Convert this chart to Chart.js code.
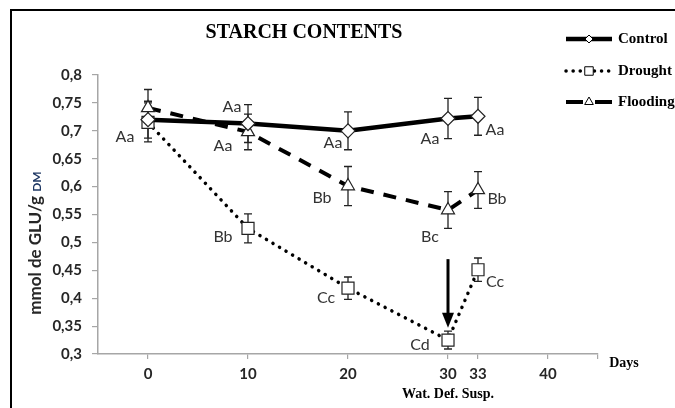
<!DOCTYPE html>
<html>
<head>
<meta charset="utf-8">
<title>Starch contents</title>
<script src="https://cdn.jsdelivr.net/npm/chart.js@4.4.1/dist/chart.umd.min.js"></script>
<style>
    html, body { margin: 0; padding: 0; background: #fff; }
    #wrap { width: 675px; height: 408px; position: relative; }
</style>
</head>
<body>
<div id="wrap"><canvas id="starchChart" width="675" height="408"></canvas></div>
<script>
// Sampling days and axis ticks
const days = [0, 10, 20, 30, 33];
const dayTicks = [0, 10, 20, 30, 33, 40, 45];

// Series values (mmol GLU / g DM) and error bars
const controlValues = [0.720, 0.713, 0.700, 0.722, 0.726];
const controlErrors = [0.033, 0.034, 0.034, 0.036, 0.034];
const droughtValues = [0.715, 0.525, 0.418, 0.325, 0.451];
const droughtErrors = [0.035, 0.026, 0.020, 0.016, 0.021];
const floodingValues = [0.741, 0.698, 0.601, 0.558, 0.594];
const floodingErrors = [0.033, 0.032, 0.035, 0.033, 0.033];

// Significance letters
const controlLetters = ['Aa', 'Aa', 'Aa', 'Aa', 'Aa'];
const droughtLetters = ['', 'Bb', 'Cc', 'Cd', 'Cc'];
const floodingLetters = ['', 'Aa', 'Bb', 'Bc', 'Bb'];

// Water deficit suspension arrow (day, from value, to value)
const arrowDay = 30;
const arrowFrom = 0.47;
const arrowTo = 0.347;

const INK = '#000000';
const TEXT = '#333333';

function toPoints(values) {
    return values.map((v, i) => ({ x: days[i], y: v }));
}

// Error bars drawn under the markers
const errorBarPlugin = {
    id: 'errorBars',
    beforeDatasetsDraw(chart) {
        const ctx = chart.ctx;
        const xs = chart.scales.x, ys = chart.scales.y;
        ctx.save();
        ctx.strokeStyle = '#222';
        ctx.lineWidth = 1.3;
        chart.data.datasets.forEach(ds => {
            ds.data.forEach((p, i) => {
                const err = ds.errors[i];
                const px = xs.getPixelForValue(p.x);
                const top = ys.getPixelForValue(p.y + err);
                const bot = ys.getPixelForValue(p.y - err);
                ctx.beginPath();
                ctx.moveTo(px, top); ctx.lineTo(px, bot);
                ctx.moveTo(px - 4, top); ctx.lineTo(px + 4, top);
                ctx.moveTo(px - 4, bot); ctx.lineTo(px + 4, bot);
                ctx.stroke();
            });
        });
        ctx.restore();
    }
};

// Letters next to the points
const letterPlugin = {
    id: 'letters',
    afterDatasetsDraw(chart, args, opts) {
        const ctx = chart.ctx;
        const xs = chart.scales.x, ys = chart.scales.y;
        ctx.save();
        ctx.fillStyle = TEXT;
        ctx.font = '16px Lato';
        ctx.textAlign = 'center';
        ctx.textBaseline = 'middle';
        chart.data.datasets.forEach((ds, d) => {
            ds.data.forEach((p, i) => {
                const txt = ds.letters[i];
                if (!txt) return;
                const off = opts.offsets[d][i];
                ctx.fillText(txt, xs.getPixelForValue(p.x) + off[0], ys.getPixelForValue(p.y) + off[1]);
            });
        });
        ctx.restore();
    }
};

// Frame, title, legend, axis titles and arrow
const decorPlugin = {
    id: 'decor',
    afterDraw(chart) {
        const ctx = chart.ctx;
        const xs = chart.scales.x, ys = chart.scales.y;
        ctx.save();

        // outer frame
        ctx.strokeStyle = INK;
        ctx.lineWidth = 2;
        ctx.strokeRect(11, 10, 720, 450);

        // title
        ctx.fillStyle = INK;
        ctx.font = 'bold 20px "Liberation Serif"';
        ctx.textAlign = 'center';
        ctx.textBaseline = 'middle';
        ctx.fillText('STARCH CONTENTS', 304, 33);

        // legend
        const rows = [39, 71, 102];
        chart.data.datasets.forEach((ds, i) => {
            const y = rows[i];
            ctx.save();
            ctx.strokeStyle = INK;
            ctx.lineWidth = ds.borderWidth;
            ctx.lineCap = ds.borderCapStyle || 'butt';
            ctx.setLineDash(ds.legendDash || []);
            ctx.beginPath();
            ctx.moveTo(566, y); ctx.lineTo(612, y);
            ctx.stroke();
            ctx.restore();
            ctx.save();
            ctx.fillStyle = '#fff';
            ctx.strokeStyle = INK;
            ctx.lineWidth = 1;
            Chart.helpers.drawPoint(ctx, { pointStyle: ds.pointStyle, radius: ds.legendRadius, borderWidth: 1 }, 589, y);
            ctx.restore();
            ctx.fillStyle = INK;
            ctx.font = 'bold 15px "Liberation Serif"';
            ctx.textAlign = 'left';
            ctx.fillText(ds.label, 618, y);
        });

        // y axis title with DM subscript
        ctx.save();
        ctx.translate(41, 243);
        ctx.rotate(-Math.PI / 2);
        ctx.textBaseline = 'alphabetic';
        ctx.textAlign = 'left';
        const main = 'mmol de GLU/g ';
        ctx.font = 'bold 17px Lato';
        const wMain = ctx.measureText(main).width;
        ctx.font = 'bold 12px Lato';
        const wSub = ctx.measureText('DM').width;
        const start = -(wMain + wSub) / 2;
        ctx.font = 'bold 17px Lato';
        ctx.fillStyle = '#262626';
        ctx.fillText(main, start, 0);
        ctx.font = 'bold 12px Lato';
        ctx.fillStyle = '#1f3864';
        ctx.fillText('DM', start + wMain, 0);
        ctx.restore();

        // x axis titles
        ctx.fillStyle = INK;
        ctx.font = 'bold 14px "Liberation Serif"';
        ctx.textAlign = 'center';
        ctx.textBaseline = 'middle';
        ctx.fillText('Days', 624, 363);
        ctx.fillText('Wat. Def. Susp.', xs.getPixelForValue(arrowDay), 394);

        // arrow
        const ax = xs.getPixelForValue(arrowDay);
        const ay1 = ys.getPixelForValue(arrowFrom);
        const ay2 = ys.getPixelForValue(arrowTo);
        ctx.strokeStyle = INK;
        ctx.fillStyle = INK;
        ctx.lineWidth = 3;
        ctx.beginPath();
        ctx.moveTo(ax, ay1); ctx.lineTo(ax, ay2 - 12);
        ctx.stroke();
        ctx.beginPath();
        ctx.moveTo(ax - 6, ay2 - 15);
        ctx.lineTo(ax + 6, ay2 - 15);
        ctx.lineTo(ax, ay2);
        ctx.closePath();
        ctx.fill();

        ctx.restore();
    }
};

const ctx = document.getElementById('starchChart').getContext('2d');
new Chart(ctx, {
    type: 'line',
    data: {
        datasets: [
            {
                label: 'Control',
                data: toPoints(controlValues),
                errors: controlErrors,
                letters: controlLetters,
                borderColor: INK,
                borderWidth: 4.5,
                pointStyle: 'rectRot',
                pointRadius: 7,
                legendRadius: 4,
                pointBackgroundColor: '#fff',
                pointBorderColor: '#222',
                pointBorderWidth: 1.2,
                tension: 0
            },
            {
                label: 'Drought',
                data: toPoints(droughtValues),
                errors: droughtErrors,
                letters: droughtLetters,
                borderColor: INK,
                borderWidth: 3.5,
                borderDash: [0.1, 7.5],
                legendDash: [0.1, 7],
                borderCapStyle: 'round',
                pointStyle: 'rect',
                pointRadius: 8.5,
                legendRadius: 6,
                pointBackgroundColor: '#fff',
                pointBorderColor: '#222',
                pointBorderWidth: 1.2,
                tension: 0
            },
            {
                label: 'Flooding',
                data: toPoints(floodingValues),
                errors: floodingErrors,
                letters: floodingLetters,
                borderColor: INK,
                borderWidth: 4,
                borderDash: [13, 10],
                legendDash: [17, 12],
                pointStyle: 'triangle',
                pointRadius: 7.5,
                legendRadius: 5,
                pointBackgroundColor: '#fff',
                pointBorderColor: '#222',
                pointBorderWidth: 1.2,
                tension: 0
            }
        ]
    },
    options: {
        responsive: false,
        animation: false,
        layout: { padding: { top: 75, right: 77, left: 0, bottom: 0 } },
        plugins: {
            legend: { display: false },
            tooltip: { enabled: false },
            letters: {
                offsets: [
                    [[-23, 17], [-16, -17], [-15, 12], [-18, 20], [17, 14]],
                    [[0, 0], [-25, 8], [-22, 10], [-28, 5], [17, 12]],
                    [[0, 0], [-25, 14], [-26, 12], [-18, 27], [19, 9]]
                ]
            }
        },
        scales: {
            x: {
                type: 'linear',
                min: -5,
                max: 45,
                afterBuildTicks: axis => { axis.ticks = dayTicks.map(v => ({ value: v })); },
                afterFit: axis => { axis.height = 54; },
                grid: { display: true, drawOnChartArea: false, tickLength: 5, color: '#a6a6a6', lineWidth: 1.2 },
                border: { color: '#a6a6a6', width: 1.5 },
                ticks: {
                    padding: 6,
                    color: '#262626',
                    font: { family: 'Lato', weight: 'bold', size: 15 },
                    maxRotation: 0,
                    autoSkip: false,
                    callback: v => (v === 45 ? '' : String(v))
                }
            },
            y: {
                min: 0.3,
                max: 0.8,
                afterFit: axis => { axis.width = 98; },
                grid: { display: true, drawOnChartArea: false, tickLength: 6, color: '#a6a6a6', lineWidth: 1.2 },
                border: { color: '#a6a6a6', width: 1.5 },
                ticks: {
                    stepSize: 0.05,
                    padding: 10,
                    color: '#262626',
                    font: { family: 'Lato', weight: 'bold', size: 15 },
                    callback: v => String(Number(v.toFixed(2))).replace('.', ',')
                }
            }
        }
    },
    plugins: [errorBarPlugin, letterPlugin, decorPlugin]
});
</script>
</body>
</html>
